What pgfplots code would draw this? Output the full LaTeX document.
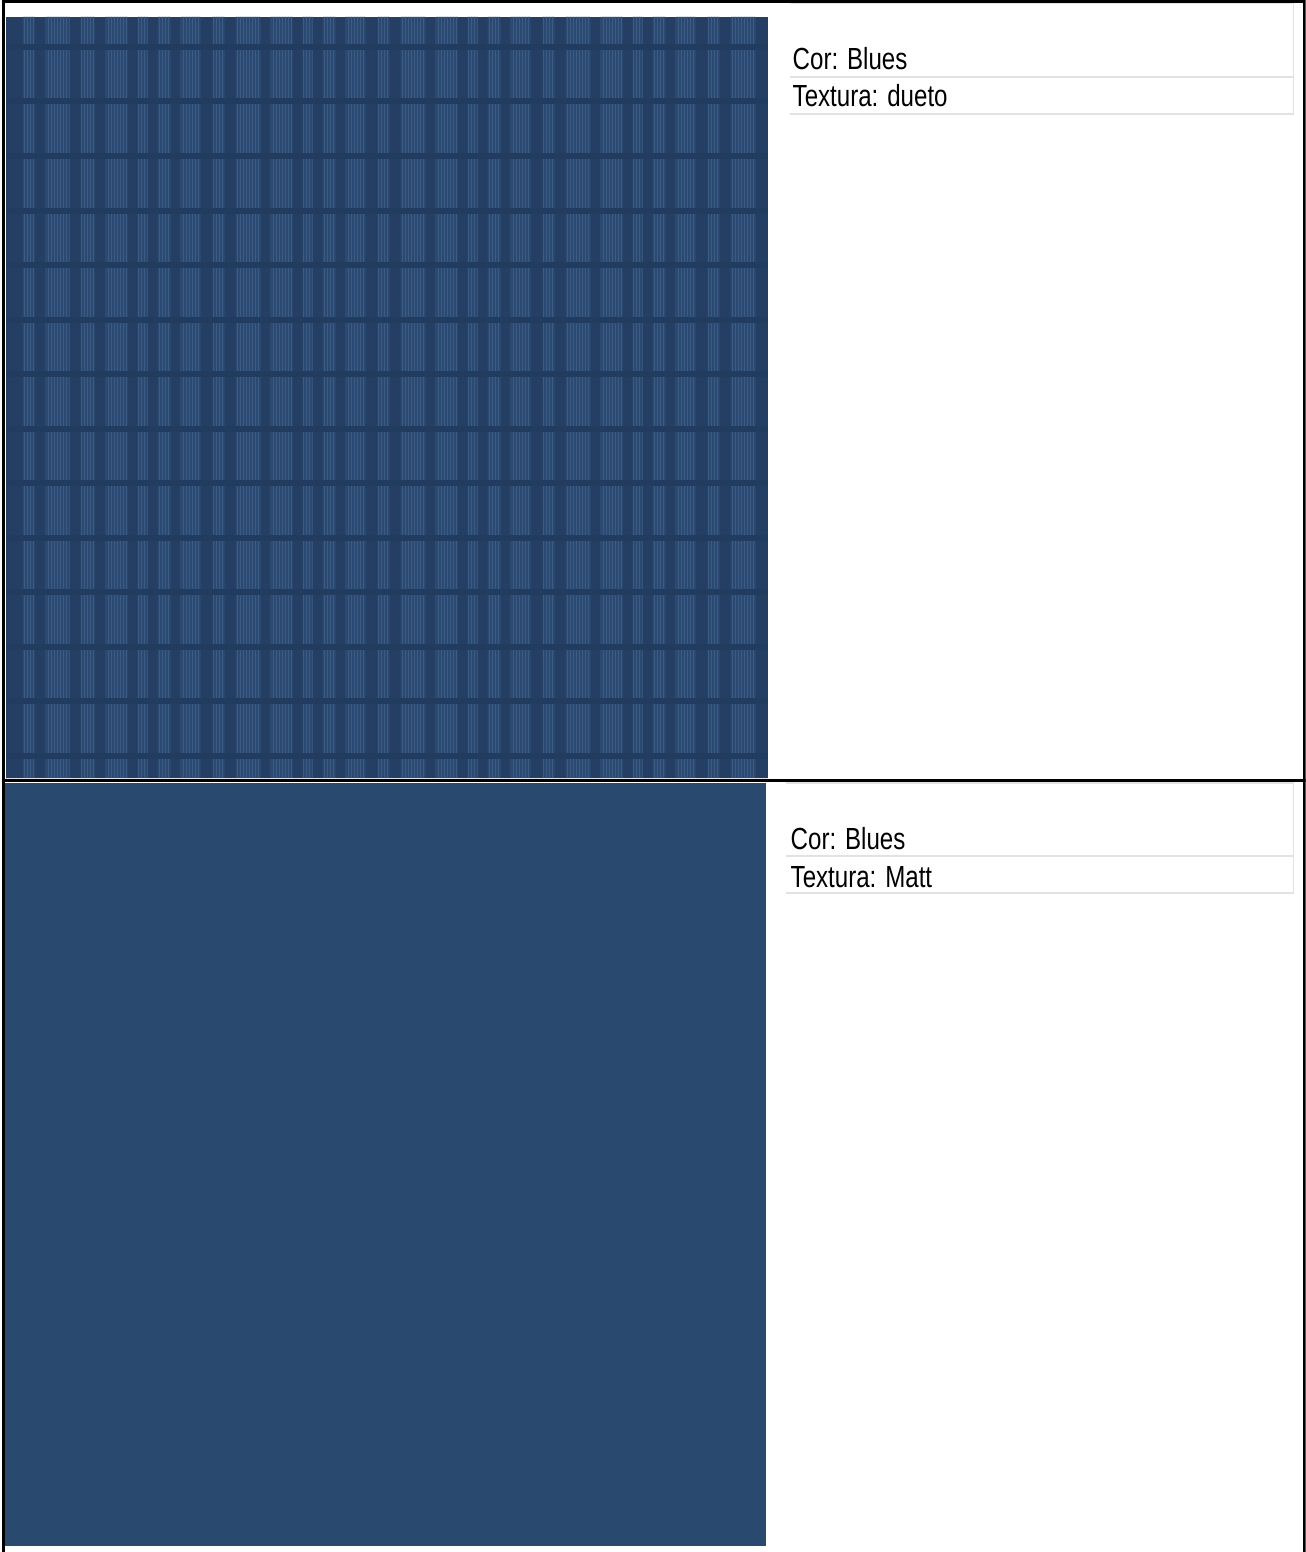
\documentclass[border=0pt]{standalone}
\usepackage{fontspec}
\setmainfont{Liberation Sans}[FakeStretch=0.79]
\usepackage{pgfplots}
\pgfplotsset{compat=1.18}
\usetikzlibrary{patterns.meta}

\definecolor{swbase}{HTML}{243F63}
\definecolor{swblock}{HTML}{2C4A71}
\definecolor{swline}{HTML}{3A5B84}
\definecolor{swband}{HTML}{223C5F}
\definecolor{swflat}{HTML}{29496F}
\definecolor{rulegray}{HTML}{E2E2E6}

\begin{document}
\begin{tikzpicture}
\begin{axis}[
    width=1308pt, height=1552pt, scale only axis,
    xmin=0, xmax=1308, ymin=0, ymax=1552,
    y dir=reverse,
    hide axis,
    unbounded coords=jump,
]

% swatch 1 (dueto): background
\addplot[fill=swbase, draw=none] coordinates {(8,17)(770,17)(770,778)(8,778)} -- cycle;

% light stripe columns (left/right edges)
\addplot[const plot mark left, fill=swblock, draw=none,
    postaction={pattern={Lines[angle=90, distance=3pt, line width=0.6pt]}, pattern color=swline}]
    coordinates {
    (8,778)(25,17)(37,778)(48,17)(72,778)(83,17)(97,778)
    (108,17)(130,778)(140,17)(150,778)(160,17)(173,778)(183,17)(203,778)
    (215,17)(227,778)(238,17)(263,778)(273,17)(295,778)(305,17)(315,778)
    (325,17)(338,778)(348,17)(368,778)(380,17)(392,778)(403,17)(428,778)
    (438,17)(460,778)(470,17)(480,778)(490,17)(503,778)(513,17)(533,778)
    (545,17)(557,778)(568,17)(593,778)(603,17)(625,778)(635,17)(645,778)
    (655,17)(668,778)(678,17)(698,778)(710,17)(722,778)(733,17)(758,778)
    (770,778)
    } -- cycle;

% dark horizontal bands
\addplot[draw=none, mark=none,
    error bars/.cd, x dir=both, x explicit, error mark=none,
    error bar style={draw=swband, line width=6pt}]
    coordinates {
    (389,47) +- (381,0)
    (389,101.5) +- (381,0)
    (389,156) +- (381,0)
    (389,210.5) +- (381,0)
    (389,265) +- (381,0)
    (389,319.5) +- (381,0)
    (389,374) +- (381,0)
    (389,428.5) +- (381,0)
    (389,483) +- (381,0)
    (389,537.5) +- (381,0)
    (389,592) +- (381,0)
    (389,646.5) +- (381,0)
    (389,701) +- (381,0)
    (389,755.5) +- (381,0)
    };

% swatch 2 (Matt)
\addplot[fill=swflat, draw=none] coordinates {(7,783)(768,783)(768,1546)(7,1546)} -- cycle;

% light table rules
\addplot[draw=rulegray, line width=1.2pt] coordinates {
    (792,3)(1296,3)(1296,114)(792,114) (nan,nan)
    (792,77)(1296,77) (nan,nan)
    (788,783)(1296,783)(1296,893)(788,893) (nan,nan)
    (788,856)(1296,856)
    };

% black outer frame
\addplot[draw=black, line width=3pt] coordinates {
    (4,1.5)(1308,1.5) (nan,nan)
    (5.5,0)(5.5,1552) (nan,nan)
    (1306.5,0)(1306.5,1552)
    };
\addplot[draw=black, line width=2.5pt] coordinates {(4,780.5)(1308,780.5)};

\node[anchor=base west, inner sep=0pt, font=\fontsize{30.5}{36}\selectfont] at (axis cs:795,70) {Cor: Blues};
\node[anchor=base west, inner sep=0pt, font=\fontsize{30.5}{36}\selectfont] at (axis cs:795,107) {Textura: dueto};
\node[anchor=base west, inner sep=0pt, font=\fontsize{30.5}{36}\selectfont] at (axis cs:793,849) {Cor: Blues};
\node[anchor=base west, inner sep=0pt, font=\fontsize{30.5}{36}\selectfont] at (axis cs:793,887) {Textura: Matt};

\end{axis}
\end{tikzpicture}
\end{document}
